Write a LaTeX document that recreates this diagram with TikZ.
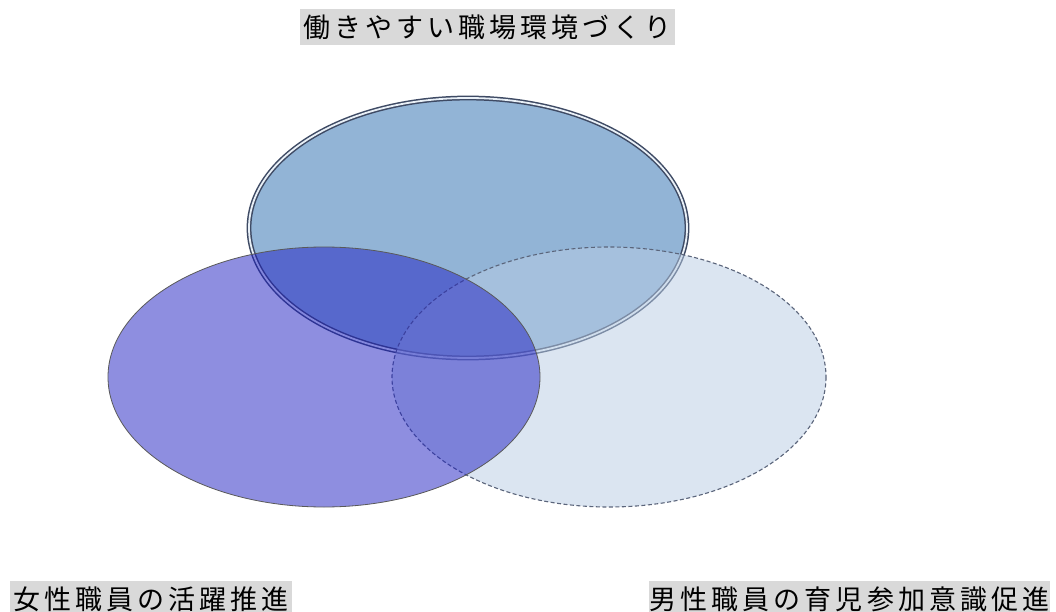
\documentclass[tikz,border=0pt]{standalone}
\usepackage{fontspec}
\newfontfamily\jp[LetterSpace=15]{Noto Sans CJK JP}
\definecolor{topfill}{RGB}{146,180,214}
\definecolor{rightfill}{RGB}{185,205,229}
\definecolor{leftfill}{RGB}{30,30,195}
\definecolor{edge}{RGB}{62,74,100}
\definecolor{labelbg}{RGB}{217,217,217}
\tikzset{
  lbl/.style={fill=labelbg, inner sep=0pt, minimum height=36pt, font=\jp\fontsize{27}{27}\selectfont, text=black},
  topell/.style={fill=topfill, draw=edge, line width=1.5pt, double=white!80!topfill, double distance=1.8pt},
  rightell/.style={fill=rightfill, fill opacity=0.5, draw=edge!85, line width=1.1pt, dash pattern=on 4pt off 2.5pt, draw opacity=1},
  leftell/.style={fill=leftfill, fill opacity=0.5, draw=black!65, line width=0.8pt, draw opacity=1},
}
\begin{document}
\begin{tikzpicture}[x=1pt,y=-1pt]
\path[use as bounding box] (0,0) rectangle (1056,612);
\clip (0,0) rectangle (1056,612);
\fill[white] (0,0) rectangle (1056,612);
% top ellipse
\path[topell] (468,228) ellipse [x radius=219, y radius=130];
\coordinate (topc) at (468,228);
% right ellipse
\path[rightell] (609,377) ellipse [x radius=217, y radius=130];
\coordinate (rightc) at (609,377);
% left ellipse
\path[leftell] (324,377) ellipse [x radius=216, y radius=130];
\coordinate (leftc) at (324,377);
% labels
\node[lbl, minimum width=375pt] (ltop) at (487.5,27.5) {働きやすい職場環境づくり};
\node[lbl, minimum width=282pt] (lleft) at (151,599) {女性職員の活躍推進};
\node[lbl, minimum width=401pt] (lright) at (849.5,599) {男性職員の育児参加意識促進};
\end{tikzpicture}
\end{document}
